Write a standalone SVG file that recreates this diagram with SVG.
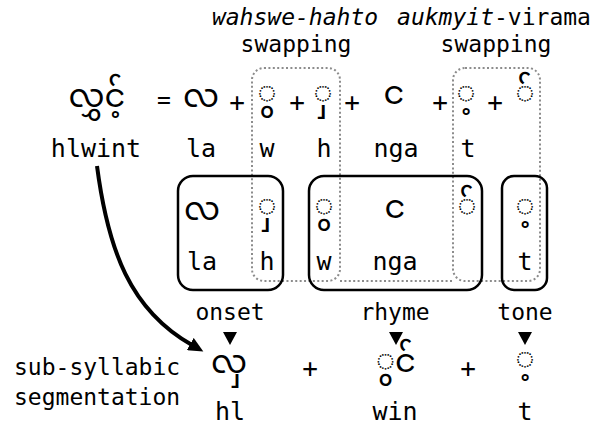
<svg xmlns="http://www.w3.org/2000/svg" width="603" height="425" viewBox="0 0 603 425">
<style>
text{font-family:"DejaVu Sans Mono","Liberation Mono",monospace;fill:#000}
.my{font-family:"Noto Sans Myanmar","Padauk","Noto Sans","DejaVu Sans",sans-serif;font-size:32px;text-anchor:middle}
.a{font-size:23px;text-anchor:middle}
.r{font-size:25px;text-anchor:middle}
.p{font-size:26px;text-anchor:middle}
.i{font-style:italic}
.swap{fill:none;stroke:#8c8c8c;stroke-width:2;stroke-dasharray:2 2.4}
.box{fill:none;stroke:#000;stroke-width:2.5}
.tri{fill:#000}
</style>
<defs>
<marker id="head" markerUnits="userSpaceOnUse" markerWidth="16" markerHeight="14" refX="2" refY="7" orient="auto">
<path d="M0,0 L15,7 L0,14 z" fill="#000"/>
</marker>
</defs>

<!-- swap annotations -->
<g id="swap-labels">
<text class="a i" x="295" y="25">wahswe-hahto</text>
<text class="a" x="296" y="52">swapping</text>
<text class="a" x="494" y="25"><tspan class="i">aukmyit</tspan>-virama</text>
<text class="a" x="496" y="52">swapping</text>
</g>

<!-- connectors: dotted swap outlines and the arrow -->
<g id="connectors">
<rect class="swap" x="252" y="68" width="88" height="213" rx="12"/>
<rect class="swap" x="453" y="68" width="87" height="213" rx="12"/>
<line class="swap" x1="340" y1="281" x2="453" y2="281"/>
<path d="M97,166 C108,250 130,310 192,345" fill="none" stroke="#000" stroke-width="4" marker-end="url(#head)"/>
<polygon class="tri" points="223,332 237,332 230,345"/>
<polygon class="tri" points="389,332 403,332 396,345"/>
<polygon class="tri" points="518,332 532,332 525,345"/>
</g>

<!-- syllable and its decomposition -->
<g id="syllable">
<text class="my" x="97" y="107">&#x101C;&#x103D;&#x103E;&#x1004;&#x1037;&#x103A;</text>
<text class="r" x="96" y="157">hlwint</text>
</g>
<g id="decomposition">
<text class="a" x="164" y="108">=</text>
<text class="my" x="201" y="107">&#x101C;</text>
<text class="p" x="237" y="111">+</text>
<text class="my" x="267" y="104">&#x25CC;&#x103D;</text>
<text class="p" x="297" y="111">+</text>
<text class="my" x="323" y="104">&#x25CC;&#x103E;</text>
<text class="p" x="352" y="111">+</text>
<text class="my" x="394" y="104">&#x1004;</text>
<text class="p" x="440" y="111">+</text>
<text class="my" x="466" y="104">&#x25CC;&#x1037;</text>
<text class="p" x="495" y="111">+</text>
<text class="my" x="525" y="104">&#x25CC;&#x103A;</text>
<text class="r" x="201" y="157">la</text>
<text class="r" x="267" y="157">w</text>
<text class="r" x="324" y="157">h</text>
<text class="r" x="396" y="157">nga</text>
<text class="r" x="468" y="157">t</text>
</g>

<!-- grouped units -->
<g id="onset">
<rect class="box" x="178" y="176" width="105" height="114" rx="15"/>
<text class="my" x="202" y="220">&#x101C;</text>
<text class="my" x="267" y="217">&#x25CC;&#x103E;</text>
<text class="r" x="202" y="270">la</text>
<text class="r" x="267" y="270">h</text>
<text class="a" x="230" y="320">onset</text>
</g>
<g id="rhyme">
<rect class="box" x="309" y="176" width="173" height="114" rx="15"/>
<text class="my" x="324" y="217">&#x25CC;&#x103D;</text>
<text class="my" x="395" y="218">&#x1004;</text>
<text class="my" x="467" y="217">&#x25CC;&#x103A;</text>
<text class="r" x="324" y="270">w</text>
<text class="r" x="395" y="270">nga</text>
<text class="a" x="395" y="320">rhyme</text>
</g>
<g id="tone">
<rect class="box" x="502" y="176" width="45" height="114" rx="12"/>
<text class="my" x="525" y="217">&#x25CC;&#x1037;</text>
<text class="r" x="525" y="270">t</text>
<text class="a" x="525" y="320">tone</text>
</g>

<!-- sub-syllabic segmentation -->
<g id="segmentation">
<text class="a" x="14" y="375" style="text-anchor:start">sub-syllabic</text>
<text class="a" x="14" y="405" style="text-anchor:start">segmentation</text>
<text class="my" x="229" y="373">&#x101C;&#x103E;</text>
<text class="p" x="310" y="377">+</text>
<text class="my" x="396" y="372">&#x25CC;&#x103D;&#x1004;&#x103A;</text>
<text class="p" x="468" y="377">+</text>
<text class="my" x="525" y="370">&#x25CC;&#x1037;</text>
<text class="r" x="230" y="420">hl</text>
<text class="r" x="395" y="420">win</text>
<text class="r" x="525" y="420">t</text>
</g>
</svg>
